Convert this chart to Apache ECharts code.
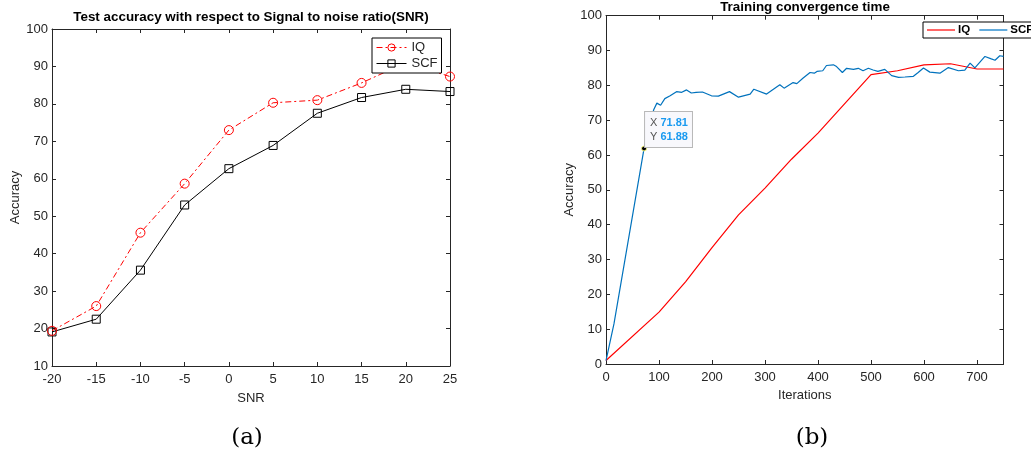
<!DOCTYPE html>
<html>
<head>
<meta charset="utf-8">
<script src="https://cdn.jsdelivr.net/npm/echarts@6/dist/echarts.min.js"></script>
<style>
  html, body { margin: 0; padding: 0; background: #fff; }
  #chart { width: 1031px; height: 454px; }
</style>
</head>
<body>
<div id="chart"></div>
<script>
// (a) accuracy vs SNR
const snr = [-20, -15, -10, -5, 0, 5, 10, 15, 20, 25]
const iqAcc = [19.4, 26.0, 45.6, 58.7, 73.0, 80.3, 81.0, 85.6, 91.0, 87.3]
const scfAcc = [19.1, 22.5, 35.6, 53.0, 62.7, 68.9, 77.5, 81.7, 83.9, 83.3]

// (b) training convergence
const iterIQ = [0, 100, 150, 200, 250, 300, 350, 400, 500, 550, 600, 650, 700, 750]
const accIQ = [1, 14.9, 23.6, 33.4, 42.8, 50.5, 58.8, 66.3, 83.1, 84.2, 85.9, 86.2, 84.7, 84.7]

const iterSCF = [0, 15, 71.81, 90, 96, 103, 111, 121, 133, 143, 152, 161, 170, 182, 199, 212, 233, 250,
  272, 279, 303, 328, 336, 353, 360, 372, 385, 393, 398, 409, 416, 429, 435, 446, 454, 467, 476, 485,
  495, 504, 513, 526, 539, 552, 564, 580, 589, 599, 611, 630, 646, 665, 677, 687, 696, 715, 727, 734, 743, 750]
const accSCF = [1, 11.5, 61.88, 73.0, 74.9, 74.3, 76.2, 77.0, 78.2, 78.0, 78.7, 77.8, 78.0, 78.1, 77.0, 76.9, 78.2, 76.6,
  77.5, 78.9, 77.5, 80.2, 79.2, 80.8, 80.5, 82.1, 83.7, 83.5, 84.0, 84.2, 85.7, 85.9, 85.4, 83.7, 84.9, 84.6, 84.9, 84.2,
  84.9, 84.4, 84.0, 84.6, 82.8, 82.3, 82.4, 82.6, 83.7, 85.0, 83.8, 83.5, 85.1, 84.2, 84.4, 86.4, 85.0, 88.3, 87.6, 87.2, 88.5, 88.3]

const tip = [71.81, 61.88]

const axisColor = '#262626'
const font = 'Liberation Sans, Arial, sans-serif'

const chart = echarts.init(document.getElementById('chart'))

// box-style axis (MATLAB look): ticks inside, no split lines
const boxAxis = (extra) => Object.assign({
  type: 'value',
  splitLine: { show: false },
  axisLine: { show: true, onZero: false, lineStyle: { color: axisColor, width: 1 } },
  axisTick: { show: true, inside: true, length: 4, lineStyle: { color: axisColor } },
  axisLabel: { color: axisColor, fontSize: 13, fontFamily: font, margin: 4 },
  nameTextStyle: { color: axisColor, fontSize: 13, fontFamily: font }
}, extra)

const option = {
  animation: false,
  backgroundColor: '#fff',
  title: [
    {
      text: 'Test accuracy with respect to Signal to noise ratio(SNR)',
      left: 251, top: 11, textAlign: 'center', padding: 0,
      textStyle: { fontSize: 13.4, fontWeight: 'bold', color: '#000', fontFamily: font }
    },
    {
      text: 'Training convergence time',
      left: 805, top: 1, textAlign: 'center', padding: 0,
      textStyle: { fontSize: 13.4, fontWeight: 'bold', color: '#000', fontFamily: font }
    },
    {
      text: '(a)', left: 247, top: 427, textAlign: 'center', padding: 0,
      textStyle: { fontSize: 23, fontWeight: 'normal', color: '#000', fontFamily: 'DejaVu Serif, serif' }
    },
    {
      text: '(b)', left: 812, top: 427, textAlign: 'center', padding: 0,
      textStyle: { fontSize: 23, fontWeight: 'normal', color: '#000', fontFamily: 'DejaVu Serif, serif' }
    }
  ],
  legend: [
    {
      data: ['IQ', 'SCF'],
      orient: 'vertical',
      left: 372, top: 38,
      padding: [3, 4, 3, 4],
      itemGap: 3,
      itemWidth: 30,
      itemHeight: 9,
      lineStyle: { width: 1 },
      itemStyle: { borderWidth: 1 },
      borderColor: '#000', borderWidth: 1,
      backgroundColor: '#fff',
      textStyle: { fontSize: 13, color: axisColor, fontFamily: font }
    },
    {
      data: ['IQ ', 'SCF '],
      orient: 'horizontal',
      left: 923, top: 22, width: 140,
      padding: [2, 4, 2, 4],
      itemGap: 6,
      itemWidth: 28,
      itemHeight: 1.5,
      icon: 'rect',
      borderColor: '#000', borderWidth: 1,
      backgroundColor: '#fff',
      textStyle: { fontSize: 11.5, fontWeight: 'bold', color: '#000', fontFamily: font, padding: [0, 0, 0, -2] }
    }
  ],
  grid: [
    { left: 52, right: 581, top: 29, bottom: 88 },
    { left: 606, right: 27.5, top: 15.7, bottom: 90 }
  ],
  xAxis: [
    boxAxis({ gridIndex: 0, min: -20, max: 25, interval: 5, name: 'SNR', nameLocation: 'middle', nameGap: 26,
      axisLabel: { color: axisColor, fontSize: 13, fontFamily: font, margin: 7 } }),
    boxAxis({ gridIndex: 0, position: 'top', min: -20, max: 25, interval: 5, axisLabel: { show: false } }),
    boxAxis({ gridIndex: 1, min: 0, max: 750, interval: 100, name: 'Iterations', nameLocation: 'middle', nameGap: 25,
      axisLabel: { color: axisColor, fontSize: 13, fontFamily: font, margin: 7, showMaxLabel: false } }),
    boxAxis({ gridIndex: 1, position: 'top', min: 0, max: 750, interval: 100, axisLabel: { show: false } })
  ],
  yAxis: [
    boxAxis({ gridIndex: 0, min: 10, max: 100, interval: 10, name: 'Accuracy', nameLocation: 'middle', nameGap: 27 }),
    boxAxis({ gridIndex: 0, position: 'right', min: 10, max: 100, interval: 10, axisLabel: { show: false } }),
    boxAxis({ gridIndex: 1, min: 0, max: 100, interval: 10, name: 'Accuracy', nameLocation: 'middle', nameGap: 24 }),
    boxAxis({ gridIndex: 1, position: 'right', min: 0, max: 100, interval: 10, axisLabel: { show: false } })
  ],
  series: [
    {
      name: 'IQ', type: 'line', xAxisIndex: 0, yAxisIndex: 0,
      data: snr.map((s, i) => [s, iqAcc[i]]),
      symbol: 'circle', symbolSize: 9,
      lineStyle: { color: '#ff0000', width: 1, type: [6, 3, 2, 3] },
      itemStyle: { color: 'rgba(255,255,255,0)', borderColor: '#ff0000', borderWidth: 1 },
      z: 3
    },
    {
      name: 'SCF', type: 'line', xAxisIndex: 0, yAxisIndex: 0,
      data: snr.map((s, i) => [s, scfAcc[i]]),
      symbol: 'rect', symbolSize: 8,
      lineStyle: { color: '#000', width: 1 },
      itemStyle: { color: 'rgba(255,255,255,0)', borderColor: '#000', borderWidth: 1 },
      z: 2
    },
    {
      name: 'IQ ', type: 'line', xAxisIndex: 2, yAxisIndex: 2,
      data: iterIQ.map((x, i) => [x, accIQ[i]]),
      symbol: 'none',
      lineStyle: { color: '#ff0000', width: 1.2 },
      itemStyle: { color: '#ff3333' }
    },
    {
      name: 'SCF ', type: 'line', xAxisIndex: 2, yAxisIndex: 2,
      data: iterSCF.map((x, i) => [x, accSCF[i]]),
      symbol: 'none',
      lineStyle: { color: '#0072bd', width: 1.2 },
      itemStyle: { color: '#2f8fd0' },
      markPoint: {
        symbol: 'circle',
        symbolSize: 5,
        itemStyle: { color: '#000', borderColor: '#ffff88', borderWidth: 1 },
        data: [{ coord: tip }],
        label: {
          show: true,
          position: 'right',
          distance: 0,
          offset: [-2, -19],
          backgroundColor: '#f8f8fc',
          borderColor: '#b8b8b8',
          borderWidth: 1,
          padding: [4, 4, 3, 5],
          fontSize: 11,
          fontFamily: font,
          color: '#555',
          lineHeight: 14,
          formatter: p => 'X {v|' + p.data.coord[0].toFixed(2) + '}\nY {v|' + p.data.coord[1].toFixed(2) + '}',
          rich: { v: { color: '#1a9af0', fontWeight: 'bold', fontSize: 11, fontFamily: font, lineHeight: 14 } }
        }
      }
    }
  ]
}

chart.setOption(option)
</script>
</body>
</html>
